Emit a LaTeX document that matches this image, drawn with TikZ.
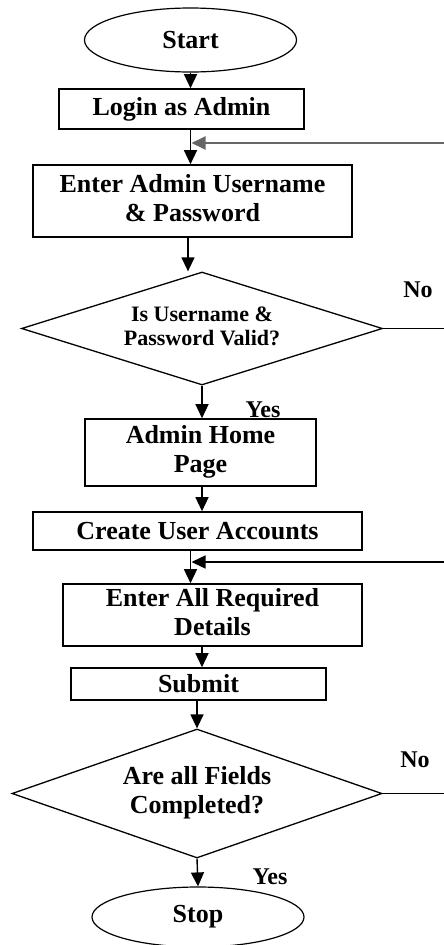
\documentclass[tikz,border=0pt]{standalone}
\usepackage{fontspec}
\setmainfont{Liberation Serif}
\usetikzlibrary{shapes.geometric,arrows.meta}
\newcommand{\twolines}[3]{\raisebox{#1}{\begin{tabular}{@{}c@{}}#2\\#3\end{tabular}}}
\begin{document}
\begin{tikzpicture}[x=1pt,y=-1pt,
  every node/.style={font=\bfseries\fontsize{26}{29}\selectfont, inner sep=0pt},
  box/.style={draw, rectangle, line width=1.6pt, align=center},
  term/.style={draw, ellipse, line width=1.2pt},
  decision/.style={draw, diamond, aspect=3.2, line width=1.3pt, align=center},
  flow/.style={line width=1.4pt, -{Triangle[length=14pt,width=13pt]}},
  plain/.style={line width=1.4pt},
  tag/.style={font=\bfseries\fontsize{24}{26}\selectfont}
]
\useasboundingbox (0,0) rectangle (444,945);

% process steps
\node[term, minimum width=212, minimum height=64] (start) at (190.5,40) {Start};
\node[box, minimum width=245, minimum height=40] (login) at (181.5,109) {Login as Admin};
\node[box, minimum width=319, minimum height=72] (enter1) at (192.5,201) {\twolines{5pt}{Enter Admin Username}{\& Password}};
\node[decision, minimum width=361, minimum height=113,
      font=\bfseries\fontsize{22}{24}\selectfont] (d1) at (202,328.5) {\twolines{-3pt}{Is Username \&}{Password Valid?}};
\node[box, minimum width=231, minimum height=67] (home) at (200.5,452.5) {\twolines{2pt}{Admin Home}{Page}};
\node[box, minimum width=329, minimum height=38] (create) at (197.5,531) {Create User Accounts};
\node[box, minimum width=299, minimum height=62] (enter2) at (212.5,615) {\twolines{3pt}{Enter All Required}{Details}};
\node[box, minimum width=255, minimum height=32] (submit) at (198.5,684) {Submit};
\node[decision, minimum width=370, minimum height=129] (d2) at (197,793.5) {\twolines{0pt}{Are all Fields}{Completed?}};
\node[term, minimum width=212, minimum height=60] (stop) at (198,917) {Stop};

% branch labels
\node[tag] (no1) at (418,290) {No};
\node[tag] (yes1) at (263,410) {Yes};
\node[tag] (no2) at (415,760) {No};
\node[tag] (yes2) at (270,877) {Yes};

% loose ends of the return lines at the right edge
\coordinate (ret1) at (444,143);
\coordinate (ret2) at (444,562);

% main flow
\draw[flow] (start.south) -- (start.south |- login.north);
\draw[flow] (start |- login.south) -- (start |- enter1.north);
\draw[flow] ([xshift=-4.5pt]enter1.south) -- ([xshift=-4.5pt]enter1.south |- d1.north);
\draw[flow] (d1.south) -- (d1.south |- home.north);
\draw[flow] (d1.south |- home.south) -- (d1.south |- create.north);
\draw[flow] (start |- create.south) -- (start |- enter2.north);
\draw[flow] (d1.south |- enter2.south) -- (d1.south |- submit.north);
\draw[flow] (d2.north |- submit.south) -- (d2.north);
\draw[flow] (d2.south) -- (stop.north);

% "No" branches and return arrows
\draw[plain] (d1.east) -- (d1.east -| ret1);
\draw[plain] (d2.east) -- (d2.east -| ret2);
\draw[flow, draw=black!60, line width=2pt] (ret1) -- ([xshift=1pt]start |- ret1);
\draw[flow] (ret2) -- ([xshift=1pt]start |- ret2);
\end{tikzpicture}
\end{document}
